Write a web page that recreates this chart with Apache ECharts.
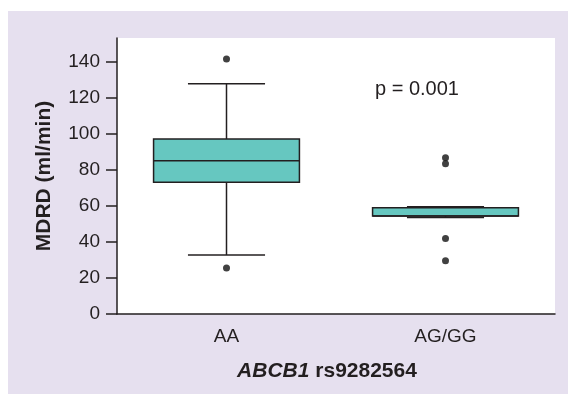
<!DOCTYPE html>
<html>
<head>
<meta charset="utf-8">
<script src="https://cdn.jsdelivr.net/npm/echarts@6/dist/echarts.min.js"></script>
<style>
  html, body { margin: 0; padding: 0; background: #fff; }
  #chart { position: absolute; left: 8px; top: 11px; width: 560px; height: 383px; }
</style>
</head>
<body>
<div id="chart"></div>
<script>
// genotype groups
const categories = ['AA', 'AG/GG'];
// box plot stats, MDRD (ml/min)
const whiskerLow = [32.7, 53.5];
const q1 = [73, 54.3];
const median = [85, 54.3];
const q3 = [97, 58.9];
const whiskerHigh = [127.6, 59.5];
// outlier points per group
const outliersAA = [141.4, 25.5];
const outliersAG = [86.6, 83.3, 41.9, 29.5];
const yTicks = [0, 20, 40, 60, 80, 100, 120, 140];

const ink = '#231f20';
const boxFill = '#66c7c0';

const myChart = echarts.init(document.getElementById('chart'));

const boxData = categories.map(function (c, i) {
  return [i, whiskerLow[i], q1[i], median[i], q3[i], whiskerHigh[i]];
});

const outlierData = outliersAA.map(function (v) { return [0, v]; })
  .concat(outliersAG.map(function (v) { return [1, v]; }));

function renderBox(params, api) {
  const idx = api.value(0);
  const band = api.size([1, 0])[0];
  const boxHalf = band * 0.333;
  const capHalf = band * 0.176;
  const lo = api.coord([idx, api.value(1)]);
  const b1 = api.coord([idx, api.value(2)]);
  const md = api.coord([idx, api.value(3)]);
  const b3 = api.coord([idx, api.value(4)]);
  const hi = api.coord([idx, api.value(5)]);
  const x = lo[0];
  const lineStyle = { stroke: ink, lineWidth: 1.5, fill: null };
  return {
    type: 'group',
    children: [
      { type: 'line', shape: { x1: x, y1: hi[1], x2: x, y2: b3[1] }, style: lineStyle },
      { type: 'line', shape: { x1: x, y1: b1[1], x2: x, y2: lo[1] }, style: lineStyle },
      { type: 'line', shape: { x1: x - capHalf, y1: hi[1], x2: x + capHalf, y2: hi[1] }, style: lineStyle },
      { type: 'line', shape: { x1: x - capHalf, y1: lo[1], x2: x + capHalf, y2: lo[1] }, style: lineStyle },
      {
        type: 'rect',
        shape: { x: x - boxHalf, y: b3[1], width: boxHalf * 2, height: b1[1] - b3[1] },
        style: { fill: boxFill, stroke: ink, lineWidth: 1.5 }
      },
      { type: 'line', shape: { x1: x - boxHalf, y1: md[1], x2: x + boxHalf, y2: md[1] }, style: lineStyle }
    ]
  };
}

const option = {
  backgroundColor: '#e6e0ef',
  animation: false,
  textStyle: { fontFamily: 'Liberation Sans, Arial, sans-serif' },
  grid: {
    left: 109,
    top: 27,
    right: 13,
    bottom: 80,
    show: true,
    backgroundColor: '#ffffff',
    borderWidth: 0
  },
  xAxis: {
    type: 'category',
    data: categories,
    boundaryGap: true,
    name: '{i|ABCB1} rs9282564',
    nameLocation: 'middle',
    nameGap: 47,
    nameTextStyle: {
      fontSize: 21,
      fontWeight: 'bold',
      color: ink,
      padding: [0, 18, 0, 0],
      rich: {
        i: { fontSize: 21, fontWeight: 'bold', fontStyle: 'italic', color: ink }
      }
    },
    axisLine: { lineStyle: { color: ink, width: 1.5 } },
    axisTick: { alignWithLabel: true, length: 11, lineStyle: { color: ink, width: 1.5 } },
    axisLabel: { fontSize: 19, color: ink, margin: 13 },
    splitLine: { show: false }
  },
  yAxis: {
    type: 'value',
    min: 0,
    max: 153,
    name: 'MDRD (ml/min)',
    nameLocation: 'middle',
    nameGap: 62,
    nameTextStyle: { fontSize: 21, fontWeight: 'bold', color: ink },
    axisLine: { show: true, lineStyle: { color: ink, width: 1.5 } },
    axisTick: { show: true, length: 11, customValues: yTicks, lineStyle: { color: ink, width: 1.5 } },
    axisLabel: { fontSize: 19, color: ink, margin: 17, customValues: yTicks },
    splitLine: { show: false }
  },
  graphic: [
    {
      type: 'text',
      left: 367,
      top: 68,
      style: { text: 'p = 0.001', fontSize: 20, fill: ink, fontFamily: 'Liberation Sans, Arial, sans-serif' }
    }
  ],
  series: [
    {
      type: 'custom',
      renderItem: renderBox,
      data: boxData,
      encode: { x: 0, y: [1, 2, 3, 4, 5] },
      z: 2
    },
    {
      type: 'scatter',
      data: outlierData,
      symbol: 'circle',
      symbolSize: 7,
      itemStyle: { color: '#111' },
      z: 3
    }
  ]
};

myChart.setOption(option);
</script>
</body>
</html>
